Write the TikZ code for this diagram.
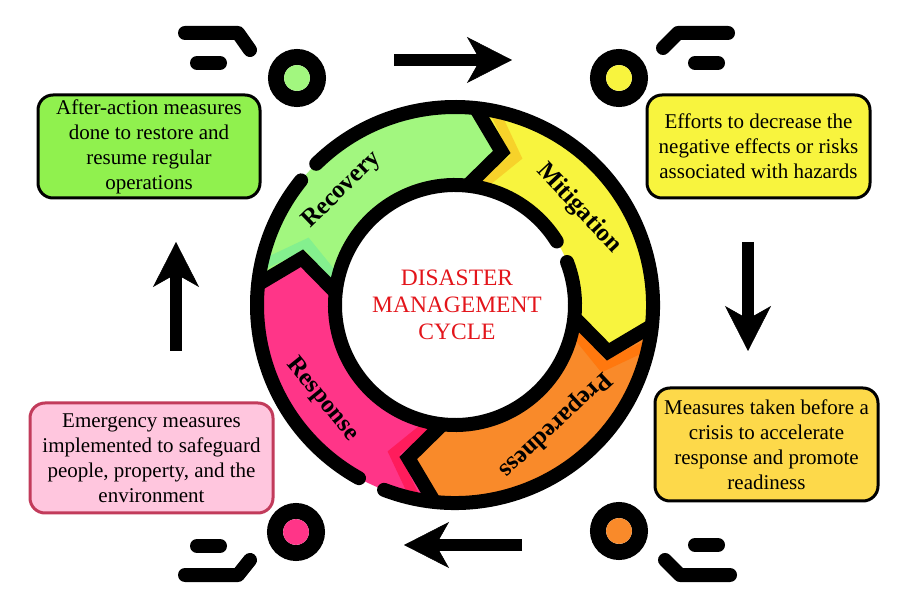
\documentclass[tikz,border=0pt]{standalone}
\usepackage{fontspec}
\setmainfont{Liberation Serif}
\usepackage{tikz}
\usetikzlibrary{
    calc,
    arrows.meta
}

\definecolor{recgreen}{HTML}{A2F77F}
\definecolor{recmint}{HTML}{84F08E}
\definecolor{recbox}{HTML}{90F14E}
\definecolor{mityellow}{HTML}{F8F43E}
\definecolor{mitgold}{HTML}{F7D22A}
\definecolor{prepor}{HTML}{F98A2A}
\definecolor{prepdark}{HTML}{FF780E}
\definecolor{prepbox}{HTML}{FDD94A}
\definecolor{resppink}{HTML}{FF3588}
\definecolor{respred}{HTML}{FF1C5C}
\definecolor{respbox}{HTML}{FFC6DE}
\definecolor{respedge}{HTML}{C23B5B}
\definecolor{titlered}{HTML}{E3151B}

\tikzset{
    infobox/.style={draw, line width=3pt, rounded corners=15pt, align=center,
        inner sep=0pt, font=\fontsize{21}{25}\selectfont},
    seglabel/.style={font=\fontsize{25}{28}\selectfont\bfseries, inner sep=0pt},
    bigarrow/.style={line width=12pt,
        -{Stealth[length=45pt,width=46pt,inset=13pt,line width=0.5pt]}},
    swoosh/.style={line width=14pt, line cap=round, line join=round},
    dotring/.style={line width=16pt},
    sepline/.style={line width=14pt, miter limit=20},
    ringline/.style={line width=14pt, line cap=round}
}

\begin{document}
\begin{tikzpicture}[x=1pt,y=1pt,thick]
\useasboundingbox (0,0) rectangle (902,597);
%\draw [help lines,step=50](0,0) grid (902,597);

% the cycle
\begin{scope}[shift={(455,292)}]
\foreach \b/\col/\strip in {169/recgreen/recmint, 79/mityellow/mitgold,
    -11/prepor/prepdark, -101/resppink/respred} {
  \fill [\col] (\b+5:198) arc [start angle=\b+5, end angle=\b-85, radius=198]
     -- (\b-96:160) -- (\b-85:120)
     arc [start angle=\b-85, end angle=\b+5, radius=120]
     -- (\b-6:160) -- cycle;
  \draw [\strip, line width=10pt] (\b-0.5:198) -- (\b-11.5:160) -- (\b-0.5:120);
}
\foreach \b in {169,79,-11,-101}
  \draw [sepline] (\b+5:198) -- (\b-6:160) -- (\b+5:120);
\draw [ringline] (-111:198) arc [start angle=-111, end angle=134.5, radius=198];
\draw [ringline] (141:198) arc [start angle=141, end angle=241, radius=198];
\draw [ringline] (32:120) arc [start angle=32, end angle=381, radius=120];

\node [seglabel, rotate=44] (recLabel) at (134.5:161) {Recovery};
\node [seglabel, rotate=-47] (mitLabel) at (38:157) {Mitigation};
\node [seglabel, rotate=-137] (prepLabel) at (-50:156) {Preparedness};
\node [seglabel, rotate=-51] (respLabel) at (-144.5:163) {Response};
\node [align=center, text=titlered, font=\fontsize{23.5}{27}\selectfont]
  (title) at (2,0) {DISASTER\\MANAGEMENT\\CYCLE};
\end{scope}

% text boxes
\node [infobox, fill=recbox, minimum width=222, minimum height=103]
  (recBox) at (149,450.5) {After-action measures\\done to restore and\\resume regular\\operations};
\node [infobox, fill=mityellow, minimum width=223, minimum height=103]
  (mitBox) at (758.5,450.5) {Efforts to decrease the\\negative effects or risks\\associated with hazards};
\node [infobox, fill=prepbox, minimum width=223, minimum height=113]
  (prepBox) at (766.5,152.5) {Measures taken before a\\crisis to accelerate\\response and promote\\readiness};
\node [infobox, draw=respedge, fill=respbox, minimum width=243, minimum height=110]
  (respBox) at (151.5,139) {Emergency measures\\implemented to safeguard\\people, property, and the\\environment};

% big arrows
\coordinate (topTail) at (394,537);
\coordinate (topTip) at (512,537);
\coordinate (rightTail) at (748,355);
\coordinate (rightTip) at (748,246);
\coordinate (bottomTail) at (522,52);
\coordinate (bottomTip) at (404,52);
\coordinate (leftTail) at (176,246);
\coordinate (leftTip) at (176,355);
\draw [bigarrow] (topTail) -- (topTip);
\draw [bigarrow] (rightTail) -- (rightTip);
\draw [bigarrow] (bottomTail) -- (bottomTip);
\draw [bigarrow] (leftTail) -- (leftTip);

% corner ornaments
\coordinate (greenDot) at (297,519);
\coordinate (yellowDot) at (619,519);
\coordinate (pinkDot) at (296,65);
\coordinate (orangeDot) at (619,66);
\draw [dotring] (greenDot) circle (21);
\draw [dotring] (yellowDot) circle (21);
\draw [dotring] (pinkDot) circle (21);
\draw [dotring] (orangeDot) circle (21);
\fill [recgreen] (greenDot) circle (13);
\fill [mityellow] (yellowDot) circle (13);
\fill [resppink] (pinkDot) circle (13);
\fill [prepor] (orangeDot) circle (13);

\draw [swoosh] (185,564) -- (238,564) -- (250,547);
\draw [swoosh] (197,534) -- (220,534);
\draw [swoosh] (663,549) -- (678,564) -- (728,564);
\draw [swoosh] (695,534) -- (718,534);
\draw [swoosh] (197,51) -- (220,51);
\draw [swoosh] (185,22) -- (238,22) -- (250,37);
\draw [swoosh] (695,52) -- (718,52);
\draw [swoosh] (665,37) -- (680,22) -- (730,22);
\end{tikzpicture}
\end{document}
